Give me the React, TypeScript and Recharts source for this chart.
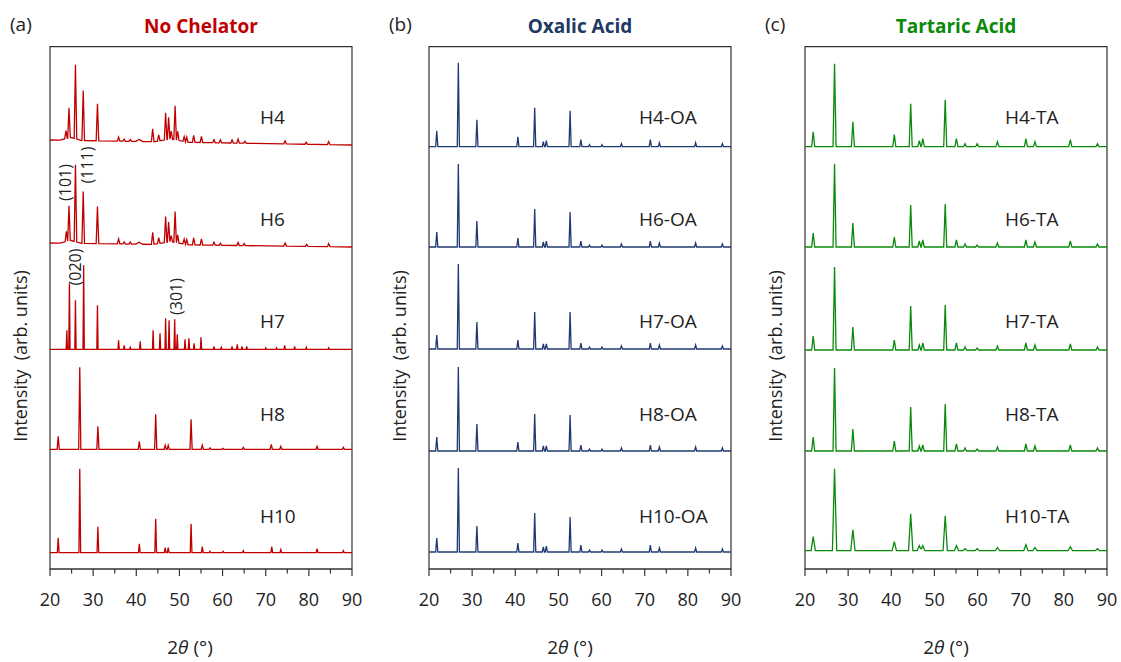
import React from "react";
import { LineChart, Line, XAxis, YAxis, ReferenceArea } from "recharts";

// 2θ ticks (major every 10°, minor in between)
const X_TICKS = [20, 25, 30, 35, 40, 45, 50, 55, 60, 65, 70, 75, 80, 85, 90];

// peaks are [2θ, height, optional half width]; heights in arb. units
const H4 = [
  [20, 5, 70], [24.8, 3, 2.5], [48, 3, 4],
  [23.7, 8], [24.4, 30], [25.9, 74], [27.7, 50], [31.0, 37], [35.9, 4], [37.2, 2], [38.6, 2],
  [40.7, 2, 0.8], [43.8, 13], [45.2, 6], [46.8, 27], [47.5, 22], [48.1, 8], [49.0, 34], [49.6, 9],
  [51.1, 5], [51.7, 5], [53.3, 7], [55.1, 6], [58.0, 3], [59.5, 3], [62.2, 3], [63.6, 4], [65.2, 2],
  [74.5, 3], [79.4, 2], [84.6, 3],
];
const H6 = [
  [20, 4, 70], [24.8, 3, 2.5], [48, 3, 4],
  [23.8, 10], [24.4, 35], [25.9, 77], [27.7, 52], [31.0, 37], [35.9, 5], [37.2, 2], [38.6, 2],
  [40.7, 2, 0.8], [43.8, 12], [45.2, 6], [46.8, 26], [47.5, 20], [48.1, 6], [49.0, 31], [49.6, 8],
  [51.1, 5], [51.7, 5], [53.3, 7], [55.1, 6], [58.0, 3], [59.5, 2], [63.6, 3], [65.0, 2],
  [74.5, 3], [79.5, 2], [84.6, 3],
];
const H7 = [
  [23.9, 19], [24.5, 66], [25.9, 49], [27.8, 84], [31.0, 44], [35.9, 9], [37.2, 4], [38.6, 2],
  [40.9, 8], [43.9, 19], [45.5, 16], [46.8, 31], [47.6, 29], [48.9, 30], [49.5, 15], [51.3, 10],
  [52.2, 11], [53.4, 6], [55.0, 12], [58.0, 3], [59.7, 2], [62.2, 3], [63.4, 5], [64.5, 3],
  [65.6, 3], [70.0, 1.5], [72.5, 1.5], [74.4, 4], [76.7, 3], [79.4, 2], [84.6, 1.5],
];
const H8 = [
  [21.9, 13], [26.9, 82], [31.1, 23], [40.7, 8], [44.5, 35], [46.7, 4], [47.4, 4], [52.7, 30],
  [55.3, 4], [57.1, 1.5], [60.1, 1], [64.8, 2], [71.3, 5], [73.5, 3], [81.9, 3], [88.0, 2],
];
const H10 = [
  [21.9, 15], [26.9, 84], [31.1, 26], [40.7, 9], [44.5, 34], [46.7, 5], [47.4, 5], [52.7, 29],
  [55.3, 6], [57.1, 1.5], [60.1, 1.5], [64.8, 2], [71.4, 6], [73.5, 3], [81.9, 4], [88.0, 2],
];

const H4_OA = [
  [21.8, 16], [26.8, 84], [31.1, 27], [40.6, 10], [44.5, 39], [46.5, 5], [47.2, 6], [52.7, 36],
  [55.2, 7], [57.2, 2], [60.1, 2], [64.6, 3], [71.3, 7], [73.4, 4], [81.8, 4], [88.0, 3],
];
const H6_OA = [
  [21.8, 15], [26.8, 83], [31.1, 26], [40.6, 9], [44.5, 38], [46.5, 5], [47.2, 6], [52.7, 35],
  [55.2, 6], [57.2, 2], [60.1, 2], [64.6, 3], [71.3, 6], [73.4, 4], [81.8, 4], [88.0, 3],
];
const H7_OA = [
  [21.8, 14], [26.8, 85], [31.1, 27], [40.6, 9], [44.5, 37], [46.5, 5], [47.2, 5], [52.7, 37],
  [55.2, 6], [57.2, 2], [60.1, 2], [64.6, 3], [71.3, 6], [73.4, 4], [81.8, 4], [88.0, 3],
];
const H8_OA = [
  [21.8, 14], [26.8, 84], [31.1, 27], [40.6, 9], [44.5, 37], [46.5, 5], [47.2, 5], [52.7, 36],
  [55.2, 6], [57.2, 2], [60.1, 2], [64.6, 3], [71.3, 6], [73.4, 4], [81.8, 4], [88.0, 3],
];
const H10_OA = [
  [21.8, 14], [26.8, 84], [31.1, 26], [40.6, 9], [44.5, 39], [46.5, 5], [47.2, 6], [52.7, 35],
  [55.2, 7], [57.2, 2], [60.1, 2], [64.6, 3], [71.3, 7], [73.4, 4], [81.8, 4], [88.0, 3],
];

const H4_TA = [
  [21.9, 15], [26.85, 83], [31.1, 25], [40.7, 12], [44.5, 43], [46.5, 6], [47.3, 8], [52.5, 47],
  [55.1, 8], [57.1, 3], [59.9, 3], [64.6, 5], [71.2, 8], [73.3, 5], [81.5, 7], [87.8, 3],
];
const H6_TA = [
  [21.9, 14], [26.85, 83], [31.1, 24], [40.7, 10], [44.5, 42], [46.5, 6], [47.3, 7], [52.5, 43],
  [55.1, 7], [57.1, 3], [59.9, 2], [64.6, 4], [71.2, 7], [73.3, 5], [81.5, 6], [87.8, 3],
];
const H7_TA = [
  [21.9, 14], [26.85, 83], [31.1, 23], [40.7, 10], [44.5, 44], [46.5, 5], [47.3, 7], [52.5, 45],
  [55.1, 7], [57.1, 3], [59.9, 2], [64.6, 4], [71.2, 7], [73.3, 5], [81.5, 6], [87.8, 3],
];
const H8_TA = [
  [21.9, 14], [26.85, 83], [31.1, 22], [40.7, 10], [44.5, 44], [46.5, 5], [47.3, 6], [52.5, 47],
  [55.1, 7], [57.1, 3], [59.9, 2], [64.6, 4], [71.2, 7], [73.3, 5], [81.5, 6], [87.8, 3],
];
const H10_TA = [
  [21.9, 14], [26.85, 82], [31.1, 21], [40.7, 9], [44.5, 37], [46.5, 5], [47.3, 5], [52.5, 35],
  [55.1, 5], [57.1, 2], [59.9, 2], [64.6, 3], [71.2, 6], [73.3, 3], [81.5, 4], [87.8, 2],
];

const LABELS_A = ["H4", "H6", "H7", "H8", "H10"];
const LABELS_B = ["H4-OA", "H6-OA", "H7-OA", "H8-OA", "H10-OA"];
const LABELS_C = ["H4-TA", "H6-TA", "H7-TA", "H8-TA", "H10-TA"];
const OFFSETS_A = [424, 322, 219.7, 119.7, 16.3];
const OFFSETS_B = [422.3, 322, 220, 118, 17];
const OFFSETS_C = [422.3, 322, 219, 118, 18.3];
const WIDTHS_A = [0.3, 0.3, 0.15, 0.25, 0.2];
const WIDTHS_B = [0.25, 0.25, 0.25, 0.25, 0.25];
const WIDTHS_C = [0.35, 0.35, 0.35, 0.35, 0.5];
const LABEL_BASELINES = [124, 226, 328, 421, 523];

const Y_MAX = 522.3;
const FONT = "'Open Sans', 'Noto Sans', sans-serif";

type Peak = number[];

function buildTrace(peaks: Peak[], width: number, offset: number) {
  const knots = new Set<number>([20, 90]);
  peaks.forEach(([p, , w = width]) => {
    [p - w, p, p + w].forEach((k) => {
      if (k >= 20 && k <= 90) knots.add(+k.toFixed(3));
    });
  });
  return [...knots]
    .sort((a, b) => a - b)
    .map((x) => ({
      x,
      y:
        offset +
        peaks.reduce((s, [p, h, w = width]) => s + Math.max(0, h * (1 - Math.abs(x - p) / w)), 0),
    }));
}

const XTick = (props: any) => {
  const { x, y, payload } = props;
  const major = payload.value % 10 === 0;
  return (
    <g>
      <line x1={x} x2={x} y1={y} y2={y + (major ? 7 : 4.5)} stroke="#333" strokeWidth={1.2} />
      {major && (
        <text x={x} y={y + 37} textAnchor="middle" fontSize={18} fill="#222" fontFamily={FONT}>
          {payload.value}
        </text>
      )}
    </g>
  );
};

interface PanelProps {
  left: number;
  color: string;
  traces: Peak[][];
  offsets: number[];
  widths: number[];
}

function Panel({ left, color, traces, offsets, widths }: PanelProps) {
  return (
    <div style={{ position: "absolute", left, top: 0 }}>
      <LineChart width={380} height={662} margin={{ top: 46.7, right: 28, bottom: 53, left: 50 }}>
        <XAxis
          type="number"
          dataKey="x"
          domain={[20, 90]}
          ticks={X_TICKS}
          interval={0}
          tickSize={0}
          tickMargin={0}
          tickLine={false}
          tick={<XTick />}
          height={40}
          axisLine={{ stroke: "#333", strokeWidth: 1.2 }}
          allowDataOverflow
        />
        <YAxis type="number" dataKey="y" domain={[0, Y_MAX]} hide allowDataOverflow />
        <ReferenceArea x1={20} x2={90} y1={0} y2={Y_MAX} fill="none" stroke="#333" strokeWidth={1.2} />
        {traces.map((peaks, i) => (
          <Line
            key={i}
            data={buildTrace(peaks, widths[i], offsets[i])}
            dataKey="y"
            type="linear"
            stroke={color}
            strokeWidth={1.3}
            dot={false}
            activeDot={false}
            isAnimationActive={false}
          />
        ))}
      </LineChart>
    </div>
  );
}

const panels = [
  { left: 0, plotLeft: 50, tag: "(a)", title: "No Chelator", color: "#c00000", titleColor: "#c00000", labels: LABELS_A, labelX: 260, axisTitleX: 190 },
  { left: 379, plotLeft: 429, tag: "(b)", title: "Oxalic Acid", color: "#1f3a72", titleColor: "#203864", labels: LABELS_B, labelX: 639, axisTitleX: 570 },
  { left: 755, plotLeft: 805, tag: "(c)", title: "Tartaric Acid", color: "#0a8a0a", titleColor: "#0a8a0a", labels: LABELS_C, labelX: 1005, axisTitleX: 946 },
];

const MILLER = [
  { text: "(101)", x: 64.5, y: 182.5 },
  { text: "(111)", x: 86.5, y: 165 },
  { text: "(020)", x: 75, y: 267 },
  { text: "(301)", x: 175.5, y: 296.5 },
];

export default function App() {
  return (
    <div style={{ position: "absolute", left: 0, top: 0, width: 1121, height: 662, background: "#fff", fontFamily: FONT }}>
      <Panel left={0} color={panels[0].color} traces={[H4, H6, H7, H8, H10]} offsets={OFFSETS_A} widths={WIDTHS_A} />
      <Panel left={379} color={panels[1].color} traces={[H4_OA, H6_OA, H7_OA, H8_OA, H10_OA]} offsets={OFFSETS_B} widths={WIDTHS_B} />
      <Panel left={755} color={panels[2].color} traces={[H4_TA, H6_TA, H7_TA, H8_TA, H10_TA]} offsets={OFFSETS_C} widths={WIDTHS_C} />
      <svg width={1121} height={662} style={{ position: "absolute", left: 0, top: 0, pointerEvents: "none" }} fontFamily={FONT}>
        {panels.map((p) => (
          <g key={p.tag}>
            <text x={p.plotLeft - 40} y={31} fontSize={19} fill="#222">{p.tag}</text>
            <text x={p.plotLeft + 151} y={33} fontSize={19} fontWeight="bold" fill={p.titleColor} textAnchor="middle">
              {p.title}
            </text>
            <text
              x={p.plotLeft - 30}
              y={356}
              fontSize={18}
              fill="#222"
              textAnchor="middle"
              dominantBaseline="central"
              transform={`rotate(-90, ${p.plotLeft - 30}, 356)`}
            >
              Intensity{"\u00a0\u00a0"}(arb. units)
            </text>
            {p.labels.map((l, i) => (
              <text key={l} x={p.labelX} y={LABEL_BASELINES[i]} fontSize={19} fill="#222">{l}</text>
            ))}
            <text x={p.axisTitleX} y={654} fontSize={19} fill="#222" textAnchor="middle">
              2<tspan fontStyle="italic">θ</tspan> (°)
            </text>
          </g>
        ))}
        {MILLER.map((m) => (
          <text
            key={m.text}
            x={m.x}
            y={m.y}
            fontSize={16}
            fill="#222"
            textAnchor="middle"
            dominantBaseline="central"
            transform={`rotate(-90, ${m.x}, ${m.y})`}
          >
            {m.text}
          </text>
        ))}
      </svg>
    </div>
  );
}
